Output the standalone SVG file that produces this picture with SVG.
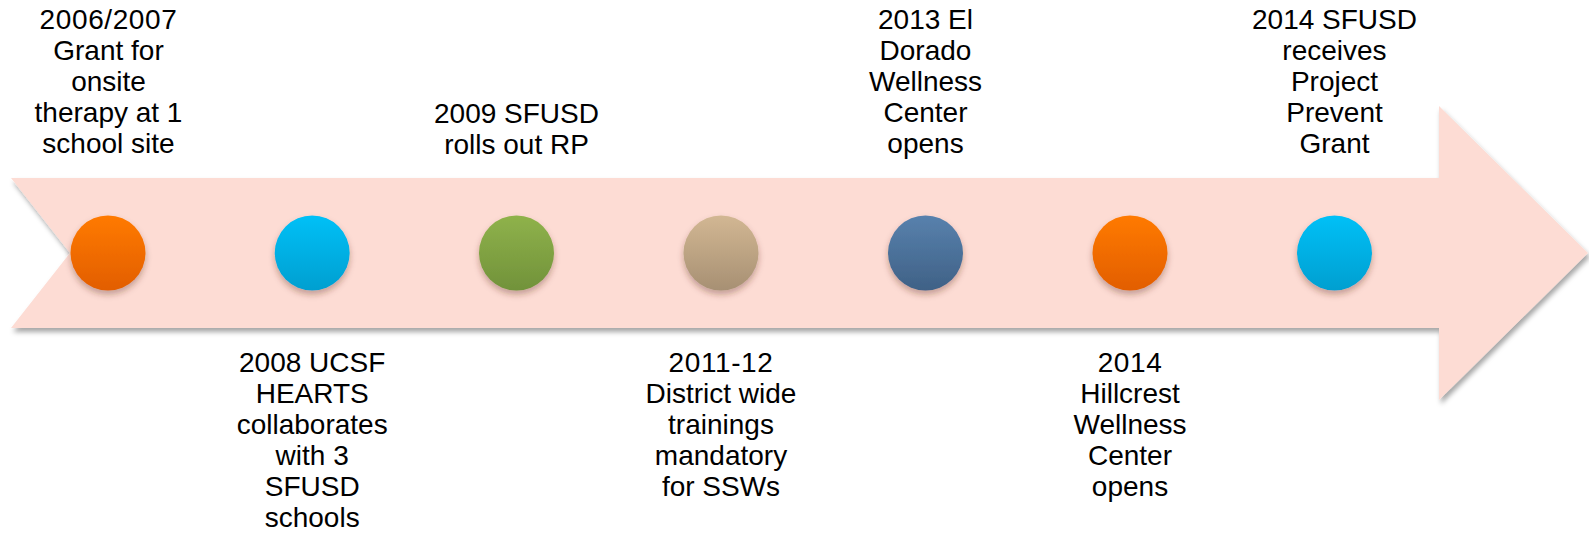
<svg xmlns="http://www.w3.org/2000/svg" width="1589" height="533" viewBox="0 0 1589 533">
  <style>
    .lbl { font-family: "Liberation Sans", Arial, sans-serif; font-size: 28px; fill: #000; text-anchor: middle; }
    .yr { letter-spacing: 0.6px; }
    .dot { filter: url(#dotShadow); }
  </style>
  <defs>
    <filter id="arrowShadow" x="-5%" y="-20%" width="110%" height="140%">
      <feDropShadow dx="2" dy="4" stdDeviation="2.5" flood-color="#000" flood-opacity="0.35"/>
    </filter>
    <filter id="dotShadow" x="-30%" y="-30%" width="160%" height="170%">
      <feDropShadow dx="0" dy="4" stdDeviation="3" flood-color="#5a2a20" flood-opacity="0.35"/>
    </filter>
    <linearGradient id="gOrange" x1="0" y1="0" x2="0" y2="1">
      <stop offset="0" stop-color="#FF7A00"/>
      <stop offset="1" stop-color="#E25E00"/>
    </linearGradient>
    <linearGradient id="gBlue" x1="0" y1="0" x2="0" y2="1">
      <stop offset="0" stop-color="#00C0F7"/>
      <stop offset="1" stop-color="#009FD0"/>
    </linearGradient>
    <linearGradient id="gGreen" x1="0" y1="0" x2="0" y2="1">
      <stop offset="0" stop-color="#8FB24B"/>
      <stop offset="1" stop-color="#71923A"/>
    </linearGradient>
    <linearGradient id="gTan" x1="0" y1="0" x2="0" y2="1">
      <stop offset="0" stop-color="#D2B793"/>
      <stop offset="1" stop-color="#A79073"/>
    </linearGradient>
    <linearGradient id="gSteel" x1="0" y1="0" x2="0" y2="1">
      <stop offset="0" stop-color="#5881AD"/>
      <stop offset="1" stop-color="#3F6186"/>
    </linearGradient>
  </defs>

  <!-- timeline arrow -->
  <g id="timeline-arrow">
    <polygon points="11,178 1439,178 1439,106 1588,253 1439,400 1439,328 11,328 70,253" fill="#FDDCD4" filter="url(#arrowShadow)"/>
  </g>

  <!-- milestone markers and captions -->
  <g id="m2006">
    <circle class="dot" cx="108" cy="253" r="37.5" fill="url(#gOrange)"/>
    <text class="lbl yr" x="108.5" y="29">2006/2007</text>
    <text class="lbl" x="108.5" y="60">Grant for</text>
    <text class="lbl" x="108.5" y="91">onsite</text>
    <text class="lbl" x="108.5" y="122">therapy at 1</text>
    <text class="lbl" x="108.5" y="153">school site</text>
  </g>

  <g id="m2008">
    <circle class="dot" cx="312.2" cy="253" r="37.5" fill="url(#gBlue)"/>
    <text class="lbl" x="312.2" y="372">2008 UCSF</text>
    <text class="lbl" x="312.2" y="403">HEARTS</text>
    <text class="lbl" x="312.2" y="434">collaborates</text>
    <text class="lbl" x="312.2" y="465">with 3</text>
    <text class="lbl" x="312.2" y="496">SFUSD</text>
    <text class="lbl" x="312.2" y="527">schools</text>
  </g>

  <g id="m2009">
    <circle class="dot" cx="516.5" cy="253" r="37.5" fill="url(#gGreen)"/>
    <text class="lbl" x="516.5" y="123">2009 SFUSD</text>
    <text class="lbl" x="516.5" y="154">rolls out RP</text>
  </g>

  <g id="m2011">
    <circle class="dot" cx="721" cy="253" r="37.5" fill="url(#gTan)"/>
    <text class="lbl yr" x="721" y="372">2011-12</text>
    <text class="lbl" x="721" y="403">District wide</text>
    <text class="lbl" x="721" y="434">trainings</text>
    <text class="lbl" x="721" y="465">mandatory</text>
    <text class="lbl" x="721" y="496">for SSWs</text>
  </g>

  <g id="m2013">
    <circle class="dot" cx="925.5" cy="253" r="37.5" fill="url(#gSteel)"/>
    <text class="lbl" x="925.5" y="29">2013 El</text>
    <text class="lbl" x="925.5" y="60">Dorado</text>
    <text class="lbl" x="925.5" y="91">Wellness</text>
    <text class="lbl" x="925.5" y="122">Center</text>
    <text class="lbl" x="925.5" y="153">opens</text>
  </g>

  <g id="m2014a">
    <circle class="dot" cx="1130" cy="253" r="37.5" fill="url(#gOrange)"/>
    <text class="lbl yr" x="1130" y="372">2014</text>
    <text class="lbl" x="1130" y="403">Hillcrest</text>
    <text class="lbl" x="1130" y="434">Wellness</text>
    <text class="lbl" x="1130" y="465">Center</text>
    <text class="lbl" x="1130" y="496">opens</text>
  </g>

  <g id="m2014b">
    <circle class="dot" cx="1334.5" cy="253" r="37.5" fill="url(#gBlue)"/>
    <text class="lbl" x="1334.5" y="29">2014 SFUSD</text>
    <text class="lbl" x="1334.5" y="60">receives</text>
    <text class="lbl" x="1334.5" y="91">Project</text>
    <text class="lbl" x="1334.5" y="122">Prevent</text>
    <text class="lbl" x="1334.5" y="153">Grant</text>
  </g>

  <!-- no connectors between milestones -->
  <g id="connectors"/>
</svg>
